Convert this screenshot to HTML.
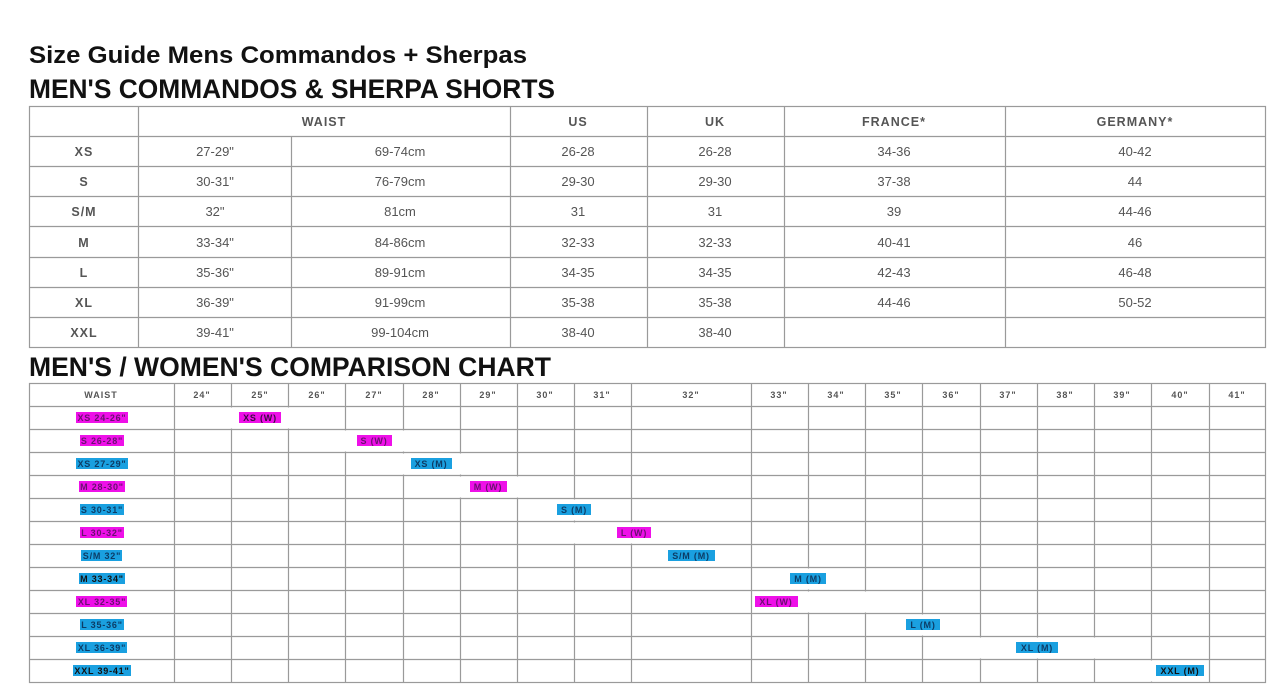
<!DOCTYPE html>
<html><head><meta charset="utf-8"><style>
html,body{margin:0;padding:0;background:#fff;}
svg{display:block;}
.t{font-family:"Liberation Sans",sans-serif;font-weight:bold;fill:#111;}
.c{font-family:"Liberation Sans",sans-serif;font-size:13px;fill:#555;text-anchor:middle;}
.h{font-family:"Liberation Sans",sans-serif;font-size:12.5px;font-weight:bold;fill:#555;text-anchor:middle;letter-spacing:1px;}
.h2{font-family:"Liberation Sans",sans-serif;font-size:9px;font-weight:bold;fill:#555;text-anchor:middle;letter-spacing:1px;}
.p{font-family:"Liberation Sans",sans-serif;font-size:9px;font-weight:bold;text-anchor:middle;letter-spacing:0.8px;}
.m{fill:#ee10e8;} .b{fill:#1aa0e0;}
.mt{fill:#6a1070;} .bt{fill:#0c3c66;}
</style></head><body>
<svg width="1271" height="697" viewBox="0 0 1271 697" xmlns="http://www.w3.org/2000/svg">
<rect width="1271" height="697" fill="#fff"/>
<text class="t" x="29" y="63" font-size="24" textLength="498" lengthAdjust="spacingAndGlyphs">Size Guide Mens Commandos + Sherpas</text>
<text class="t" x="29" y="98" font-size="27" textLength="526" lengthAdjust="spacingAndGlyphs">MEN'S COMMANDOS &amp; SHERPA SHORTS</text>
<text class="t" x="29" y="376" font-size="27" textLength="522" lengthAdjust="spacingAndGlyphs">MEN'S / WOMEN'S COMPARISON CHART</text>

<g stroke="#9a9a9a" stroke-width="1.2" fill="none">
<rect x="29.5" y="106.5" width="1236" height="241"/>
<line x1="29" y1="136.5" x2="1266" y2="136.5"/>
<line x1="29" y1="166.5" x2="1266" y2="166.5"/>
<line x1="29" y1="196.5" x2="1266" y2="196.5"/>
<line x1="29" y1="226.5" x2="1266" y2="226.5"/>
<line x1="29" y1="257.5" x2="1266" y2="257.5"/>
<line x1="29" y1="287.5" x2="1266" y2="287.5"/>
<line x1="29" y1="317.5" x2="1266" y2="317.5"/>
<line x1="138.5" y1="106" x2="138.5" y2="347"/>
<line x1="291.5" y1="136" x2="291.5" y2="347"/>
<line x1="510.5" y1="106" x2="510.5" y2="347"/>
<line x1="647.5" y1="106" x2="647.5" y2="347"/>
<line x1="784.5" y1="106" x2="784.5" y2="347"/>
<line x1="1005.5" y1="106" x2="1005.5" y2="347"/>
</g>
<text class="h" x="324" y="126">WAIST</text>
<text class="h" x="578" y="126">US</text>
<text class="h" x="715" y="126">UK</text>
<text class="h" x="894" y="126">FRANCE*</text>
<text class="h" x="1135" y="126">GERMANY*</text>

<g class="h"><text x="84" y="156">XS</text><text x="84" y="186">S</text><text x="84" y="216">S/M</text><text x="84" y="247">M</text><text x="84" y="277">L</text><text x="84" y="307">XL</text><text x="84" y="337">XXL</text></g>
<g class="c">
<text x="215" y="156">27-29"</text><text x="400" y="156">69-74cm</text><text x="578" y="156">26-28</text><text x="715" y="156">26-28</text><text x="894" y="156">34-36</text><text x="1135" y="156">40-42</text>
<text x="215" y="186">30-31"</text><text x="400" y="186">76-79cm</text><text x="578" y="186">29-30</text><text x="715" y="186">29-30</text><text x="894" y="186">37-38</text><text x="1135" y="186">44</text>
<text x="215" y="216">32"</text><text x="400" y="216">81cm</text><text x="578" y="216">31</text><text x="715" y="216">31</text><text x="894" y="216">39</text><text x="1135" y="216">44-46</text>
<text x="215" y="247">33-34"</text><text x="400" y="247">84-86cm</text><text x="578" y="247">32-33</text><text x="715" y="247">32-33</text><text x="894" y="247">40-41</text><text x="1135" y="247">46</text>
<text x="215" y="277">35-36"</text><text x="400" y="277">89-91cm</text><text x="578" y="277">34-35</text><text x="715" y="277">34-35</text><text x="894" y="277">42-43</text><text x="1135" y="277">46-48</text>
<text x="215" y="307">36-39"</text><text x="400" y="307">91-99cm</text><text x="578" y="307">35-38</text><text x="715" y="307">35-38</text><text x="894" y="307">44-46</text><text x="1135" y="307">50-52</text>
<text x="215" y="337">39-41"</text><text x="400" y="337">99-104cm</text><text x="578" y="337">38-40</text><text x="715" y="337">38-40</text>
</g>

<!-- table 2 -->
<g stroke="#9a9a9a" stroke-width="1.2" fill="none">
<rect x="29.5" y="383.5" width="1236" height="299"/>
<line x1="29" y1="406.5" x2="1266" y2="406.5"/>
<line x1="29" y1="429.5" x2="1266" y2="429.5"/>
<line x1="29" y1="452.5" x2="1266" y2="452.5"/>
<line x1="29" y1="475.5" x2="1266" y2="475.5"/>
<line x1="29" y1="498.5" x2="1266" y2="498.5"/>
<line x1="29" y1="521.5" x2="1266" y2="521.5"/>
<line x1="29" y1="544.5" x2="1266" y2="544.5"/>
<line x1="29" y1="567.5" x2="1266" y2="567.5"/>
<line x1="29" y1="590.5" x2="1266" y2="590.5"/>
<line x1="29" y1="613.5" x2="1266" y2="613.5"/>
<line x1="29" y1="636.5" x2="1266" y2="636.5"/>
<line x1="29" y1="659.5" x2="1266" y2="659.5"/>
<line x1="174.5" y1="383" x2="174.5" y2="682"/>
<line x1="231.5" y1="383" x2="231.5" y2="682"/>
<line x1="288.5" y1="383" x2="288.5" y2="682"/>
<line x1="345.5" y1="383" x2="345.5" y2="682"/>
<line x1="403.5" y1="383" x2="403.5" y2="682"/>
<line x1="460.5" y1="383" x2="460.5" y2="682"/>
<line x1="517.5" y1="383" x2="517.5" y2="682"/>
<line x1="574.5" y1="383" x2="574.5" y2="682"/>
<line x1="631.5" y1="383" x2="631.5" y2="682"/>
<line x1="751.5" y1="383" x2="751.5" y2="682"/>
<line x1="808.5" y1="383" x2="808.5" y2="682"/>
<line x1="865.5" y1="383" x2="865.5" y2="682"/>
<line x1="922.5" y1="383" x2="922.5" y2="682"/>
<line x1="980.5" y1="383" x2="980.5" y2="682"/>
<line x1="1037.5" y1="383" x2="1037.5" y2="682"/>
<line x1="1094.5" y1="383" x2="1094.5" y2="682"/>
<line x1="1151.5" y1="383" x2="1151.5" y2="682"/>
<line x1="1209.5" y1="383" x2="1209.5" y2="682"/>
</g>
<g fill="#fff">
<rect x="229" y="407.5" width="5" height="21"/><rect x="286" y="407.5" width="5" height="21"/>
<rect x="343" y="430.5" width="5" height="21"/><rect x="401" y="430.5" width="5" height="21"/>
<rect x="401" y="453.5" width="5" height="21"/><rect x="458" y="453.5" width="5" height="21"/>
<rect x="458" y="476.5" width="5" height="21"/><rect x="515" y="476.5" width="5" height="21"/>
<rect x="572" y="499.5" width="5" height="21"/>
<rect x="572" y="522.5" width="5" height="21"/><rect x="629" y="522.5" width="5" height="21"/>
<rect x="806" y="568.5" width="5" height="21"/>
<rect x="806" y="591.5" width="5" height="21"/><rect x="863" y="591.5" width="5" height="21"/>
<rect x="920" y="614.5" width="5" height="21"/>
<rect x="978" y="637.5" width="5" height="21"/><rect x="1035" y="637.5" width="5" height="21"/><rect x="1092" y="637.5" width="5" height="21"/>
<rect x="1149" y="660.5" width="5" height="21"/>
</g>
<g class="h2">
<text x="101" y="398">WAIST</text><text x="202" y="398">24"</text><text x="260" y="398">25"</text><text x="317" y="398">26"</text><text x="374" y="398">27"</text><text x="431" y="398">28"</text><text x="488" y="398">29"</text><text x="545" y="398">30"</text><text x="602" y="398">31"</text><text x="691" y="398">32"</text><text x="779" y="398">33"</text><text x="836" y="398">34"</text><text x="893" y="398">35"</text><text x="951" y="398">36"</text><text x="1008" y="398">37"</text><text x="1065" y="398">38"</text><text x="1122" y="398">39"</text><text x="1180" y="398">40"</text><text x="1237" y="398">41"</text>
</g>

<!-- left labels -->
<rect class="m" x="76" y="412" width="52" height="11"/><text class="p mt" x="102" y="421">XS 24-26"</text>
<rect class="m" x="80" y="435" width="44" height="11"/><text class="p mt" x="102" y="444">S 26-28"</text>
<rect class="b" x="76" y="458" width="52" height="11"/><text class="p bt" x="102" y="467">XS 27-29"</text>
<rect class="m" x="79" y="481" width="46" height="11"/><text class="p mt" x="102" y="490">M 28-30"</text>
<rect class="b" x="80" y="504" width="44" height="11"/><text class="p bt" x="102" y="513">S 30-31"</text>
<rect class="m" x="80" y="527" width="44" height="11"/><text class="p mt" x="102" y="536">L 30-32"</text>
<rect class="b" x="81" y="550" width="41" height="11"/><text class="p bt" x="102" y="559">S/M 32"</text>
<rect class="b" x="79" y="573" width="46" height="11"/><text class="p" fill="#111" x="102" y="582">M 33-34"</text>
<rect class="m" x="76" y="596" width="51" height="11"/><text class="p mt" x="102" y="605">XL 32-35"</text>
<rect class="b" x="80" y="619" width="44" height="11"/><text class="p bt" x="102" y="628">L 35-36"</text>
<rect class="b" x="76" y="642" width="51" height="11"/><text class="p bt" x="102" y="651">XL 36-39"</text>
<rect class="b" x="73" y="665" width="58" height="11"/><text class="p" fill="#111" x="102" y="674">XXL 39-41"</text>

<!-- pills -->
<rect class="m" x="239" y="412" width="42" height="11"/><text class="p" fill="#3a0a40" x="260" y="421">XS (W)</text>
<rect class="m" x="357" y="435" width="35" height="11"/><text class="p mt" x="374" y="444">S (W)</text>
<rect class="b" x="411" y="458" width="41" height="11"/><text class="p bt" x="431" y="467">XS (M)</text>
<rect class="m" x="470" y="481" width="37" height="11"/><text class="p mt" x="488" y="490">M (W)</text>
<rect class="b" x="557" y="504" width="34" height="11"/><text class="p bt" x="574" y="513">S (M)</text>
<rect class="m" x="617" y="527" width="34" height="11"/><text class="p mt" x="634" y="536">L (W)</text>
<rect class="b" x="668" y="550" width="47" height="11"/><text class="p bt" x="691" y="559">S/M (M)</text>
<rect class="b" x="790" y="573" width="36" height="11"/><text class="p bt" x="808" y="582">M (M)</text>
<rect class="m" x="755" y="596" width="43" height="11"/><text class="p mt" x="776" y="605">XL (W)</text>
<rect class="b" x="906" y="619" width="34" height="11"/><text class="p bt" x="923" y="628">L (M)</text>
<rect class="b" x="1016" y="642" width="42" height="11"/><text class="p bt" x="1037" y="651">XL (M)</text>
<rect class="b" x="1156" y="665" width="48" height="11"/><text class="p" fill="#111" x="1180" y="674">XXL (M)</text>
</svg>
</body></html>
